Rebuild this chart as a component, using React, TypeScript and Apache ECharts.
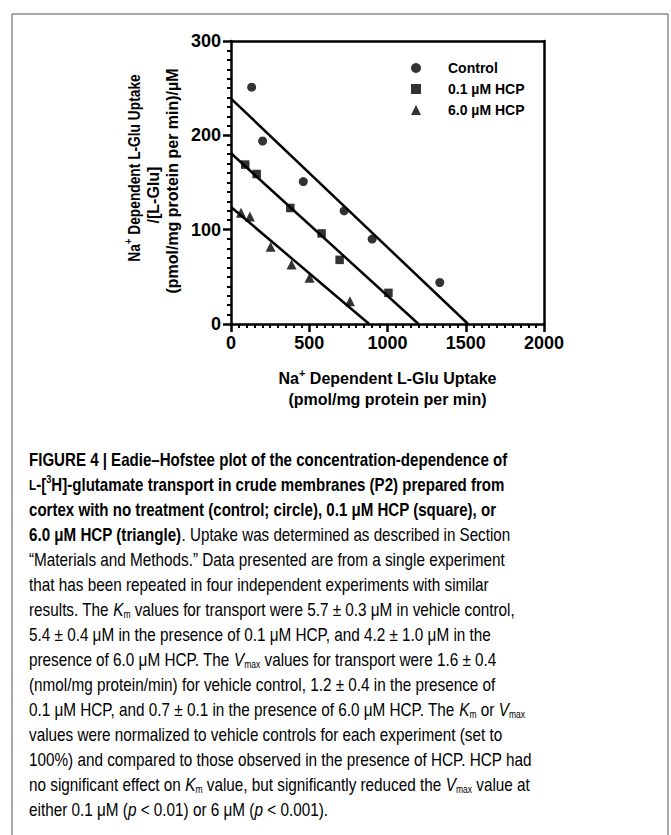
import React, { useEffect, useRef } from "react";
import * as echarts from "echarts";

const FONT = "'Liberation Sans', Arial, Helvetica, sans-serif";

// Eadie–Hofstee data: x = uptake (pmol/mg protein per min), y = uptake/[L-Glu]
const controlPoints: [number, number][] = [
  [132, 251], [202, 194], [462, 151], [723, 120], [902, 90], [1334, 44],
];
const hcp01Points: [number, number][] = [
  [91, 169], [164, 159], [379, 123], [579, 96], [694, 68], [1006, 33],
];
const hcp60Points: [number, number][] = [
  [64, 118], [121, 114], [253, 82], [387, 63], [502, 49], [760, 24],
];
// regression lines (intercepts)
const controlFit: [number, number][] = [[0, 239], [1515, 0]];
const hcp01Fit: [number, number][] = [[0, 181], [1198, 0]];
const hcp60Fit: [number, number][] = [[0, 124], [883, 0]];

const seriesNames = ["Control", "0.1 µM HCP", "6.0 µM HCP"];
const xTicks = { min: 0, max: 2000, interval: 500 };
const yTicks = { min: 0, max: 300, interval: 100 };

const captionLines: [string, string][][] = [
  [["b", "FIGURE 4 | Eadie–Hofstee plot of the concentration-dependence of"]],
  [["sc", "L"], ["b", "-["], ["bsup", "3"], ["b", "H]-glutamate transport in crude membranes (P2) prepared from"]],
  [["b", "cortex with no treatment (control; circle), 0.1 μM HCP (square), or"]],
  [["b", "6.0 μM HCP (triangle)"], ["n", ". Uptake was determined as described in Section"]],
  [["n", "“Materials and Methods.” Data presented are from a single experiment"]],
  [["n", "that has been repeated in four independent experiments with similar"]],
  [["n", "results. The "], ["i", "K"], ["sub", "m"], ["n", " values for transport were 5.7 ± 0.3 μM in vehicle control,"]],
  [["n", "5.4 ± 0.4 μM in the presence of 0.1 μM HCP, and 4.2 ± 1.0 μM in the"]],
  [["n", "presence of 6.0 μM HCP. The "], ["i", "V"], ["sub", "max"], ["n", " values for transport were 1.6 ± 0.4"]],
  [["n", "(nmol/mg protein/min) for vehicle control, 1.2 ± 0.4 in the presence of"]],
  [["n", "0.1 μM HCP, and 0.7 ± 0.1 in the presence of 6.0 μM HCP. The "], ["i", "K"], ["sub", "m"], ["n", " or "], ["i", "V"], ["sub", "max"]],
  [["n", "values were normalized to vehicle controls for each experiment (set to"]],
  [["n", "100%) and compared to those observed in the presence of HCP. HCP had"]],
  [["n", "no significant effect on "], ["i", "K"], ["sub", "m"], ["n", " value, but significantly reduced the "], ["i", "V"], ["sub", "max"], ["n", " value at"]],
  [["n", "either 0.1 μM ("], ["i", "p"], ["n", " < 0.01) or 6 μM ("], ["i", "p"], ["n", " < 0.001)."]],
];

const yTitleLines = [
  "{b|Na}{sup|+}{b| Dependent L-Glu Uptake}",
  "{b|/[L-Glu]}",
  "{b|(pmol/mg protein per min)/µM}",
];

export default function App() {
  const ref = useRef<HTMLDivElement>(null);
  useEffect(() => {
    if (!ref.current) return;
    const chart = echarts.init(ref.current, null, { renderer: "svg" });
    const axisLine = { show: true, onZero: false, lineStyle: { color: "#000", width: 2.5 } };
    const labelStyle = {
      fontSize: 18,
      fontWeight: "bold",
      color: "#000",
      fontFamily: FONT,
      formatter: (v: number) => String(v),
    };
    const capSize = 18;
    const capRich = {
      b: { fontSize: capSize, fontWeight: "bold", fontFamily: FONT, color: "#111" },
      n: { fontSize: capSize, fontWeight: "normal", fontFamily: FONT, color: "#1a1a1a" },
      i: { fontSize: capSize, fontStyle: "italic", fontFamily: FONT, color: "#1a1a1a" },
      sub: { fontSize: 10, fontFamily: FONT, color: "#1a1a1a", verticalAlign: "bottom", lineHeight: 19 },
      sc: { fontSize: 14, fontWeight: "bold", fontFamily: FONT, color: "#111" },
      bsup: { fontSize: 11, fontWeight: "bold", fontFamily: FONT, color: "#111", verticalAlign: "top", lineHeight: 23 },
    };
    const richTitle = {
      b: { fontSize: 16, fontWeight: "bold", fontFamily: FONT, color: "#000" },
      sup: { fontSize: 11, fontWeight: "bold", fontFamily: FONT, color: "#000", verticalAlign: "top", lineHeight: 22 },
    };
    const yTitlePos = [
      { x: 134, y: 168, s: 0.86 },
      { x: 153, y: 195, s: 1 },
      { x: 172, y: 181, s: 1 },
    ];
    const graphic: any[] = [
      {
        type: "rect",
        shape: { x: 12, y: 14, width: 656, height: 900 },
        style: { fill: "none", stroke: "#555", lineWidth: 1 },
        silent: true,
      },
      ...yTitleLines.map((t, k) => ({
        type: "text",
        x: yTitlePos[k].x,
        y: yTitlePos[k].y,
        rotation: Math.PI / 2,
        scaleX: yTitlePos[k].s,
        style: { text: t, rich: richTitle, align: "center", verticalAlign: "middle" },
      })),
      ...captionLines.map((line, k) => ({
        type: "text",
        x: 29,
        y: 460 + 25 * k,
        scaleX: k < 3 ? 0.838 : k === 3 ? 0.843 : 0.85,
        style: {
          text: line.map(([s, t]) => `{${s}|${t}}`).join(""),
          rich: capRich,
          align: "left",
          verticalAlign: "middle",
        },
      })),
    ];
    const scatter = (name: string, data: [number, number][], symbol: string, size: number) => ({
      name,
      type: "scatter",
      data,
      symbol,
      symbolSize: size,
      itemStyle: { color: "#000" },
    });
    const fit = (data: [number, number][]) => ({
      type: "line",
      data,
      showSymbol: false,
      symbol: "none",
      lineStyle: { color: "#000", width: 2.5 },
      silent: true,
    });
    chart.setOption({
      animation: false,
      backgroundColor: "#fff",
      grid: { left: 231, top: 41, width: 313, height: 283 },
      legend: {
        data: seriesNames,
        orient: "vertical",
        left: 411,
        top: 61,
        padding: 0,
        itemWidth: 10,
        itemHeight: 10,
        itemGap: 7,
        textStyle: { fontSize: 14, fontWeight: "bold", fontFamily: FONT, color: "#000", lineHeight: 14, padding: [0, 0, 0, 22] },
      },
      xAxis: [
        {
          type: "value",
          ...xTicks,
          position: "bottom",
          axisLine,
          axisTick: { show: true, length: 8, lineStyle: { color: "#000", width: 2.5 } },
          minorTick: { show: true, splitNumber: 10, length: 4, lineStyle: { color: "#000", width: 2 } },
          splitLine: { show: false },
          minorSplitLine: { show: false },
          axisLabel: { ...labelStyle, margin: 10 },
          name: "{b|Na}{sup|+}{b| Dependent L-Glu Uptake}\n{b|(pmol/mg protein per min)}",
          nameLocation: "middle",
          nameGap: 43,
          nameTextStyle: { rich: { ...richTitle, b: { ...richTitle.b, lineHeight: 20 } }, lineHeight: 20 },
        },
        {
          type: "value",
          ...xTicks,
          position: "top",
          axisLine,
          axisTick: { show: false },
          axisLabel: { show: false },
          splitLine: { show: false },
        },
      ],
      yAxis: [
        {
          type: "value",
          ...yTicks,
          position: "left",
          axisLine,
          axisTick: { show: true, length: 8, lineStyle: { color: "#000", width: 2.5 } },
          minorTick: { show: true, splitNumber: 10, length: 4, lineStyle: { color: "#000", width: 2 } },
          splitLine: { show: false },
          minorSplitLine: { show: false },
          axisLabel: { ...labelStyle, margin: 10 },
        },
        {
          type: "value",
          ...yTicks,
          position: "right",
          axisLine,
          axisTick: { show: false },
          axisLabel: { show: false },
          splitLine: { show: false },
        },
      ],
      series: [
        scatter(seriesNames[0], controlPoints, "circle", 9),
        scatter(seriesNames[1], hcp01Points, "rect", 8.5),
        scatter(seriesNames[2], hcp60Points, "triangle", 10),
        fit(controlFit),
        fit(hcp01Fit),
        fit(hcp60Fit),
      ],
      graphic,
    });
    return () => chart.dispose();
  }, []);
  return (
    <div
      ref={ref}
      style={{ position: "absolute", left: 0, top: 0, width: 671, height: 835, background: "#fff" }}
    />
  );
}
